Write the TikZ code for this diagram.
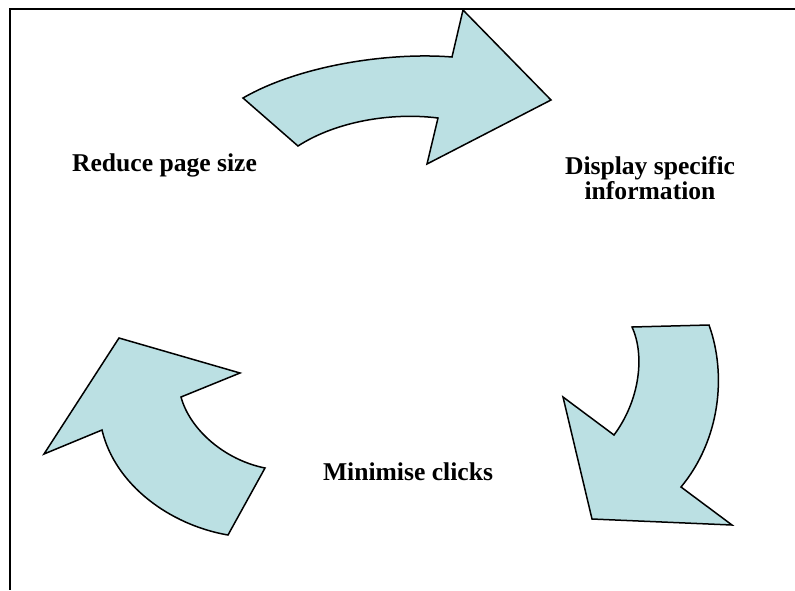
\documentclass[tikz,border=0pt]{standalone}
\usepackage{fontspec}
\setmainfont{Liberation Serif}
\definecolor{arrowfill}{RGB}{187,224,227}
\begin{document}
\begin{tikzpicture}[x=1pt,y=-1pt,
  cyclearrow/.style={draw=black,fill=arrowfill,line width=1.5pt,line join=miter},
  frameline/.style={draw=black,line width=2pt},
  label/.style={font=\bfseries\fontsize{25.6}{25}\selectfont,inner sep=0pt,align=center}]
\useasboundingbox (0,0) rectangle (795,590);
% frame
\coordinate (fcorner) at (10,9);
\coordinate (fright) at (795,9);
\coordinate (fbottom) at (10,590);
\draw[frameline] (fright) -- (fcorner) -- (fbottom);
% top arrow
\draw[cyclearrow] (243,98) .. controls (300,65) and (390,52) .. (452,57)
  -- (463,10) -- (551,100) -- (427,164) -- (438,118)
  .. controls (390,112) and (335,122) .. (298,146) -- cycle;
% right arrow
\draw[cyclearrow] (632,327) -- (709,325)
  .. controls (727,375) and (720,440) .. (681,487)
  -- (732,525) -- (592,519) -- (563,397) -- (614,435)
  .. controls (640,400) and (645,355) .. (632,327) -- cycle;
% left arrow
\draw[cyclearrow] (119,338) -- (240,373) -- (181,397)
  .. controls (190,430) and (225,460) .. (265,468)
  -- (228,535)
  .. controls (170,525) and (115,485) .. (102,430)
  -- (44,454) -- cycle;
% labels
\node[label,anchor=base] (reduce) at (164.5,171) {Reduce page size};
\node[label,anchor=base] (display) at (650,199) {Display specific\\information};
\node[label,anchor=base] (minimise) at (408,480) {Minimise clicks};
\end{tikzpicture}
\end{document}
